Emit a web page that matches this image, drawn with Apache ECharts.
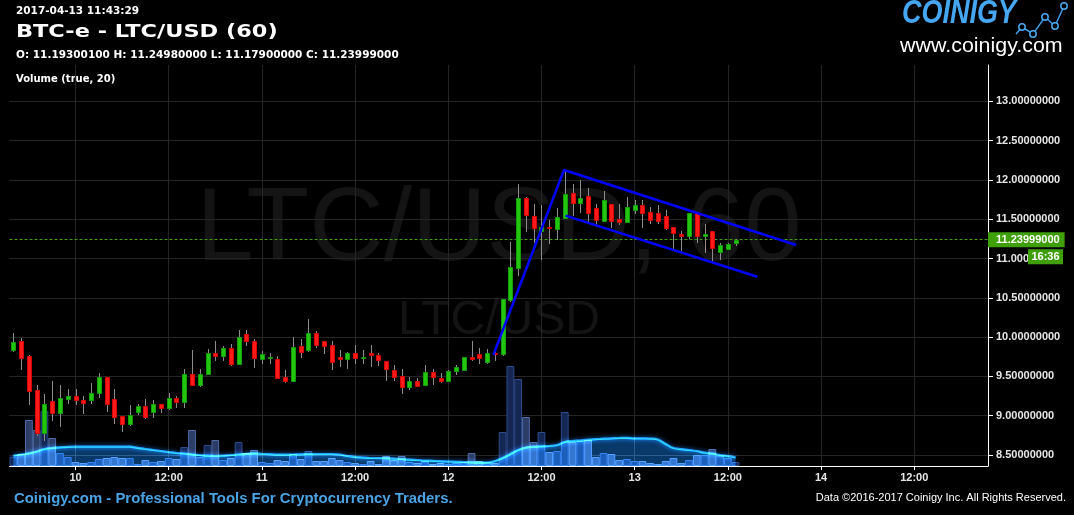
<!DOCTYPE html>
<html><head><meta charset="utf-8">
<script src="https://cdn.jsdelivr.net/npm/echarts@6/dist/echarts.min.js"></script>
<style>html,body{margin:0;padding:0;background:#000;}#c{width:1074px;height:515px;}</style>
</head><body><div id="c"></div>
<script>
// ---- data ----
// hourly categories: Apr 9 16:00 ... (126 slots, the last ones empty / future)
const firstHourUTC = Date.UTC(2017, 3, 9, 16);
const slotCount = 126;
const categories = [];
for (let i = 0; i < slotCount; i++) {
  categories.push(new Date(firstHourUTC + i * 3600000).toISOString().slice(0, 13).replace('T', ' ') + ':00');
}
// candles: [open, high, low, close]
const candles = [
[9.841,10.053,9.830,9.934],[9.947,9.985,9.595,9.739],[9.756,9.773,9.149,9.319],[9.323,9.387,8.755,8.784],
[8.784,9.276,8.691,9.145],[9.183,9.442,8.945,9.039],[9.039,9.391,8.869,9.221],[9.217,9.336,9.166,9.247],
[9.247,9.336,9.145,9.196],[9.196,9.247,9.039,9.158],[9.196,9.412,9.158,9.285],[9.285,9.539,9.242,9.489],
[9.489,9.490,9.064,9.145],[9.209,9.336,8.912,8.988],[8.992,8.995,8.810,8.890],[8.890,9.132,8.885,9.005],
[9.052,9.145,9.018,9.119],[9.119,9.209,8.975,8.979],[9.043,9.196,8.979,9.145],[9.145,9.148,9.043,9.094],
[9.094,9.285,9.090,9.221],[9.221,9.247,9.107,9.170],[9.170,9.590,9.107,9.527],[9.527,9.832,9.387,9.387],
[9.387,9.590,9.374,9.527],[9.527,9.845,9.527,9.794],[9.794,9.947,9.705,9.756],[9.756,9.883,9.705,9.858],
[9.858,9.909,9.641,9.654],[9.654,10.087,9.654,9.998],[10.036,10.087,9.896,9.947],[9.947,9.972,9.616,9.730],
[9.726,9.824,9.675,9.786],[9.743,9.798,9.675,9.750],[9.718,9.760,9.484,9.484],[9.493,9.582,9.433,9.446],
[9.446,10.002,9.446,9.875],[9.887,9.976,9.752,9.815],[9.836,10.231,9.828,10.049],[10.049,10.078,9.879,9.904],
[9.947,9.950,9.802,9.892],[9.896,9.947,9.599,9.688],[9.747,9.836,9.637,9.722],[9.726,9.811,9.612,9.798],
[9.798,9.900,9.675,9.739],[9.741,9.836,9.675,9.746],[9.798,9.900,9.637,9.773],[9.773,9.794,9.646,9.713],
[9.696,9.700,9.459,9.599],[9.582,9.646,9.459,9.497],[9.506,9.595,9.293,9.370],[9.370,9.493,9.344,9.442],
[9.442,9.480,9.382,9.382],[9.395,9.646,9.395,9.556],[9.556,9.595,9.408,9.497],[9.476,9.544,9.433,9.446],
[9.446,9.582,9.446,9.569],[9.573,9.646,9.535,9.620],[9.586,9.747,9.586,9.747],[9.747,9.951,9.709,9.718],
[9.786,9.862,9.675,9.739],[9.688,9.849,9.675,9.798],[9.800,9.824,9.709,9.795],[9.786,10.486,9.773,10.486],
[10.473,11.211,10.464,10.893],[10.884,11.949,10.791,11.771],[11.771,11.784,11.351,11.559],[11.542,11.695,11.215,11.394],
[11.355,11.682,11.000,11.402],[11.400,11.491,11.203,11.385],[11.381,11.644,11.245,11.525],[11.521,12.106,11.521,11.822],
[11.835,11.949,11.555,11.712],[11.712,12.000,11.593,11.771],[11.797,11.898,11.478,11.584],[11.644,11.695,11.418,11.495],
[11.483,11.860,11.483,11.746],[11.695,11.698,11.406,11.483],[11.504,11.695,11.444,11.469],[11.469,11.784,11.469,11.657],
[11.623,11.746,11.580,11.682],[11.682,11.746,11.406,11.585],[11.593,11.657,11.457,11.495],[11.580,11.682,11.457,11.483],
[11.542,11.618,11.381,11.394],[11.402,11.405,11.103,11.330],[11.317,11.355,11.103,11.292],[11.292,11.580,11.258,11.580],
[11.580,11.593,11.215,11.292],[11.292,11.440,11.090,11.317],[11.351,11.355,10.981,11.139],[11.088,11.194,10.998,11.169],
[11.126,11.194,11.126,11.181],[11.193001,11.2498,11.179,11.23999]
];
// hourly volume (LTC)
const volume = [930,1200,4600,3600,5500,2800,1300,900,400,300,400,700,800,900,800,800,200,600,400,500,
800,700,1900,3600,900,2100,2600,600,800,2400,1300,1600,400,300,600,500,1200,700,1500,500,
500,800,600,400,300,200,500,200,1000,600,1000,400,300,500,200,300,200,300,400,1300,
500,400,300,3400,10000,8700,4900,2400,3400,1400,1500,5400,2400,2500,2600,900,1300,1200,600,700,
500,500,300,200,500,800,300,600,1100,1100,1700,1000,800,400];
// volume moving average (20)
const volumeMA = [1050,1150,1270,1450,1700,1800,1870,1920,1930,1930,1930,1930,1930,1930,1930,1930,
1820,1700,1600,1500,1400,1300,1250,1150,1100,1030,1000,1030,1100,1150,1220,1270,
1220,1180,1140,1130,1150,1170,1190,1200,1200,1200,1150,1000,920,840,800,800,780,740,700,640,600,550,520,480,450,420,400,370,340,330,500,
800,1200,1600,1850,1930,1970,2000,2100,2400,2500,2550,2630,2680,2730,2760,2800,2820,2770,2760,2740,2650,2200,1800,1680,1600,1500,1330,1250,1100,1000,870];
// drawn trend lines: [slot index, price]
const trendMain = [[61.8, 9.773], [70.9, 12.127], [100.8, 11.173]];
const trendLower = [[71.1, 11.546], [95.8, 10.769]];
const countdownText = '16:36';

// ---- chart ----
const chart = echarts.init(document.getElementById('c'), null, {renderer: 'canvas'});
const last = candles[candles.length - 1];
const lastClose = last[3];
const candleData = candles.map((c, i) => [i, c[0], c[1], c[2], c[3]]);
const volData = volume.map((v, i) => {
  const up = candles[i][3] >= candles[i][0];
  return {value: v, itemStyle: up
    ? {color: 'rgb(20,38,82)', borderColor: 'rgb(46,76,140)', borderWidth: 1}
    : {color: 'rgb(44,62,104)', borderColor: 'rgb(78,106,164)', borderWidth: 1}};
});
const isMajor = (val) => { const h = +val.slice(11, 13); return h === 0 || h === 12; };
const tickInterval = (idx, val) => isMajor(val);

function renderCandle(params, api) {
  const i = api.value(0), o = api.value(1), h = api.value(2), l = api.value(3), c = api.value(4);
  const pO = api.coord([i, o]), pC = api.coord([i, c]), pH = api.coord([i, h]), pL = api.coord([i, l]);
  const cx = Math.round(pO[0]);
  const up = c >= o;
  const top = Math.round(Math.min(pO[1], pC[1])) + 0.5;
  let bot = Math.round(Math.max(pO[1], pC[1])) + 0.5;
  if (bot - top < 1) bot = top + 1;
  return {type: 'group', children: [
    {type: 'line', shape: {x1: cx + 0.5, y1: Math.round(pH[1]), x2: cx + 0.5, y2: Math.round(pL[1]) + 1},
     style: {stroke: '#8c8c8c', lineWidth: 1}},
    {type: 'rect', shape: {x: cx - 1.5, y: top, width: 4, height: bot - top},
     style: {fill: up ? '#22c60f' : '#ff1a1a', stroke: up ? '#12a005' : '#d80000', lineWidth: 1}}
  ]};
}

const txt = (id, text, x, y, font, fill, extra, align) => Object.assign({
  type: 'text', id: id, x: x, y: y, silent: true,
  style: {text: text, x: 0, y: 0, font: font, fill: fill, align: align || 'left', verticalAlign: 'middle'}
}, extra || {});

const graphicElements = [
  txt('wm1', 'LTC/USD, 60', 499, 231.6, '103px "Liberation Sans", Arial, sans-serif', '#141414', {z: -10}, 'center'),
  txt('wm2', 'LTC/USD', 499, 321, '48px "Liberation Sans", Arial, sans-serif', '#141414', {z: -10}, 'center'),
  txt('ts', '2017-04-13 11:43:29', 16, 11.2, 'bold 10.5px "DejaVu Sans", Verdana, sans-serif', '#ffffff'),
  txt('title', 'BTC-e - LTC/USD (60)', 16, 32, 'bold 18px "DejaVu Sans", Verdana, sans-serif', '#ffffff', {scaleX: 1.245}),
  txt('ohlc', 'O: 11.19300100 H: 11.24980000 L: 11.17900000 C: 11.23999000', 16, 55.3, 'bold 10.5px "DejaVu Sans", Verdana, sans-serif', '#ffffff'),
  txt('vol', 'Volume (true, 20)', 16, 79, 'bold 10px "DejaVu Sans", Verdana, sans-serif', '#ffffff'),
  txt('logo', 'COINIGY', 902, 14, 'italic bold 32.5px "Liberation Sans", Arial, sans-serif', '#45a6f2', {scaleX: 0.83}),
  txt('www', 'www.coinigy.com', 900, 45.9, '21px "Liberation Sans", Arial, sans-serif', '#ffffff', {scaleX: 1.02}),
  {type: 'polyline', id: 'icoLine', silent: true,
   shape: {points: [[1016, 34], [1022, 27], [1033, 34], [1045, 17], [1055, 26], [1064, 6]]},
   style: {stroke: '#3d9be9', lineWidth: 1.5, fill: null}}
].concat([[1022, 27], [1033, 34], [1045, 17], [1055, 26], [1064, 6]].map((p, k) => ({
  type: 'circle', id: 'ico' + k, silent: true, shape: {cx: p[0], cy: p[1], r: 3.2},
  style: {stroke: '#4aa8f0', lineWidth: 1.5, fill: '#000'}}))).concat([
  txt('foot', 'Coinigy.com - Professional Tools For Cryptocurrency Traders.', 14, 499, 'bold 14px "Liberation Sans", Arial, sans-serif', '#4aa3e2', {scaleX: 1.063}),
  txt('copy', 'Data \u00A92016-2017 Coinigy Inc. All Rights Reserved.', 1066, 498, '11px "Liberation Sans", Arial, sans-serif', '#ffffff', null, 'right')
]);

const option = {
  backgroundColor: '#000',
  animation: false,
  grid: {left: 9.5, right: 86, top: 65, bottom: 49, containLabel: false},
  xAxis: [{
    type: 'category', data: categories, boundaryGap: true,
    axisLine: {show: true, lineStyle: {color: '#ffffff', width: 1}},
    axisTick: {show: true, interval: tickInterval, alignWithLabel: true, length: 4, lineStyle: {color: '#ffffff'}},
    axisLabel: {interval: tickInterval, color: '#e6e6e6', fontWeight: 'bold', fontSize: 11,
      fontFamily: '"Liberation Sans Narrow", "Liberation Sans", Arial, sans-serif', margin: 6,
      formatter: (v) => { const h = +v.slice(11, 13); return h === 0 ? String(+v.slice(8, 10)) : '12:00'; }},
    splitLine: {show: true, interval: tickInterval, alignWithLabel: true, lineStyle: {color: '#252525', width: 1}}
  }, {
    type: 'value', min: -0.5, max: slotCount - 0.5, show: false
  }],
  yAxis: [{
    type: 'value', position: 'right', min: 8.36, max: 13.4637, splitNumber: 10, scale: true,
    axisLine: {show: true, onZero: false, lineStyle: {color: '#ffffff', width: 1}},
    axisTick: {show: true, length: 5, lineStyle: {color: '#ffffff'}},
    axisLabel: {color: '#e6e6e6', fontWeight: 'bold', fontSize: 11, margin: 8,
      fontFamily: '"Liberation Sans", Arial, sans-serif',
      showMinLabel: false, showMaxLabel: false, formatter: (v) => v.toFixed(8)},
    splitLine: {show: true, showMinLine: false, showMaxLine: false, lineStyle: {color: '#252525', width: 1}}
  }, {
    type: 'value', min: 0, max: 40100, show: false, splitLine: {show: false},
    axisLine: {onZero: false}
  }],
  series: [
    {type: 'bar', name: 'Volume', xAxisIndex: 0, yAxisIndex: 1, data: volData,
     barCategoryGap: '0%', barGap: '0%', z: 1, silent: true},
    {type: 'line', name: 'Volume MA', xAxisIndex: 0, yAxisIndex: 1, data: volumeMA,
     smooth: 0.4, symbol: 'none', z: 2, silent: true, blendMode: 'lighter',
     lineStyle: {color: 'rgb(28,128,230)', width: 2.2, shadowBlur: 4, shadowColor: 'rgba(30,140,255,0.8)'},
     areaStyle: {color: 'rgb(12,82,150)'}},
    {type: 'custom', name: 'LTC/USD', xAxisIndex: 0, yAxisIndex: 0, data: candleData,
     renderItem: renderCandle, encode: {x: 0, y: [1, 2, 3, 4]}, z: 5, silent: true,
     markLine: {silent: true, symbol: 'none', animation: false,
       lineStyle: {color: '#3d9e14', type: [3, 2], width: 1},
       label: {show: true, position: 'end', distance: 0, formatter: () => lastClose.toFixed(8),
         backgroundColor: '#3f9f06', color: '#ffffff', fontWeight: 'bold', fontSize: 11, lineHeight: 11,
         fontFamily: '"Liberation Sans", Arial, sans-serif', padding: [2, 5, 2, 8]},
       data: [{yAxis: lastClose}]}},
    {type: 'line', name: 'trend', xAxisIndex: 1, yAxisIndex: 0, data: trendMain, symbol: 'none',
     z: 6, silent: true, lineStyle: {color: '#0000ff', width: 2.5}},
    {type: 'line', name: 'trend2', xAxisIndex: 1, yAxisIndex: 0, data: trendLower, symbol: 'none',
     z: 6, silent: true, lineStyle: {color: '#0000ff', width: 2.5}}
  ],
  graphic: {elements: graphicElements}
};
chart.setOption(option);

// countdown box under the last-price label, placed via the price axis
const py = chart.convertToPixel({yAxisIndex: 0}, lastClose);
const gridRight = 1074 - 86;
graphicElements.push({
  type: 'group', id: 'countdown', x: gridRight + 40, y: py + 9.5, silent: true, z: 100, zlevel: 1,
  children: [
    {type: 'rect', z: 100, zlevel: 1, shape: {x: 0, y: 0, width: 35, height: 15}, style: {fill: '#3f9f06'}},
    {type: 'text', z: 101, zlevel: 1, style: {text: countdownText, x: 17.5, y: 8, align: 'center', verticalAlign: 'middle',
      font: 'bold 11px "Liberation Sans", Arial, sans-serif', fill: '#ffffff'}}
  ]});
chart.setOption({graphic: {elements: graphicElements}});
</script>
</body></html>
